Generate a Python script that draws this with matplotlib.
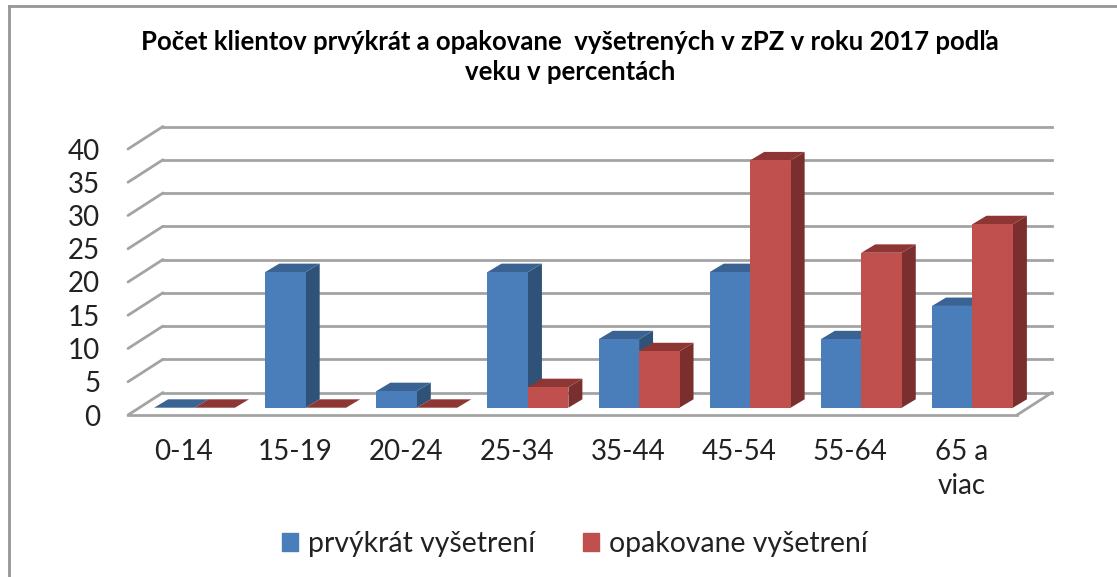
import matplotlib
matplotlib.use('Agg')
import matplotlib.pyplot as plt
from matplotlib.patches import Polygon, Patch
from matplotlib.lines import Line2D
from matplotlib.transforms import Affine2D

plt.rcParams['font.family'] = ['Lato', 'DejaVu Sans']

titulo = "Počet klientov prvýkrát a opakovane  vyšetrených v zPZ v roku 2017 podľa\nveku v percentách"
vekove_skupiny = ['0-14', '15-19', '20-24', '25-34', '35-44', '45-54', '55-64', '65 a\nviac']
prvykrat = [0, 20.4, 2.5, 20.4, 10.3, 20.4, 10.3, 15.3]
opakovane = [0, 0, 0, 3.1, 8.5, 37.2, 23.3, 27.6]
nazvy_serii = ['prvýkrát vyšetrení', 'opakovane vyšetrení']
y_ticks = [0, 5, 10, 15, 20, 25, 30, 35, 40]

W, H = 1117, 577
# posuny v pixeloch pre "3D" vzhlad
STENA = (35, 22.5)
PREDOK_STLPCA = (11, 7.3)
HLBKA_STLPCA = (14, 8.4)
SIRKA = 0.364

MODRA = ('#4A7EBB', '#3A6393', '#2F5378')
CERVENA = ('#C0504D', '#8E3634', '#7B2E2E')
SIVA = '#A3A3A3'

fig = plt.figure(figsize=(W / 100, H / 100), dpi=100)
ax = fig.add_axes([128 / W, (H - 415) / H, 889 / W, 266 / H])
ax.set_xlim(0, 8)
ax.set_ylim(0, 40)
ax.patch.set_visible(False)
for s in ax.spines.values():
    s.set_visible(False)


def posun(dx, dy):
    return ax.transData + Affine2D().translate(dx, dy)


def sikma(x, y):
    # sikma hrana z prednej roviny na zadnu stenu
    ax.annotate('', xy=(x, y), xycoords=posun(*STENA), xytext=(x, y), textcoords=ax.transData,
                arrowprops=dict(arrowstyle='-', color=SIVA, lw=2, shrinkA=0, shrinkB=0), zorder=1)


for y in y_ticks:
    ax.plot([0, 8], [y, y], color=SIVA, lw=2, transform=posun(*STENA), clip_on=False, zorder=1)
    sikma(0, y)
# predna a prava hrana podlahy
ax.plot([0, 8], [0, 0], color=SIVA, lw=2, clip_on=False, zorder=1)
sikma(8, 0)


def stlpec(x, hodnota, farby):
    predok = posun(*PREDOK_STLPCA)
    zad = posun(PREDOK_STLPCA[0] + HLBKA_STLPCA[0], PREDOK_STLPCA[1] + HLBKA_STLPCA[1])
    x2 = x + SIRKA
    # vrch a bok sa kreslia cez displej, aby sedeli pixelove posuny
    vrch = [predok.transform((x, hodnota)), predok.transform((x2, hodnota)),
            zad.transform((x2, hodnota)), zad.transform((x, hodnota))]
    bok = [predok.transform((x2, 0)), zad.transform((x2, 0)),
           zad.transform((x2, hodnota)), predok.transform((x2, hodnota))]
    ident = Affine2D()
    ax.add_patch(Polygon(bok, closed=True, fc=farby[2], ec='none', transform=ident, zorder=3, clip_on=False))
    ax.add_patch(Polygon(vrch, closed=True, fc=farby[1], ec='none', transform=ident, zorder=3, clip_on=False))
    ax.bar(x, hodnota, SIRKA, align='edge', color=farby[0], transform=predok, zorder=3, clip_on=False)


for i in range(len(vekove_skupiny)):
    x0 = i + 0.5 - SIRKA
    stlpec(x0, prvykrat[i], MODRA)
    stlpec(x0 + SIRKA, opakovane[i], CERVENA)

ax.set_xlim(0, 8)
ax.set_ylim(0, 40)
ax.set_yticks(y_ticks)
ax.set_xticks([i + 0.5 for i in range(len(vekove_skupiny))])
ax.set_xticklabels(vekove_skupiny, linespacing=1.4)
ax.tick_params(axis='y', length=0, pad=20, labelsize=20, labelcolor='#222222')
ax.tick_params(axis='x', length=0, pad=17, labelsize=20, labelcolor='#222222')

fig.text(570 / W, 1 - 57 / H, titulo, ha='center', va='center', fontsize=18.5,
         fontweight='bold', color='black', linespacing=1.3)

handles = [Patch(color=MODRA[0]), Patch(color=CERVENA[0])]
fig.legend(handles, nazvy_serii, loc='center', bbox_to_anchor=(575 / W, 1 - 544 / H), ncol=2,
           frameon=False, fontsize=20.4, handlelength=0.57, handleheight=0.57, handletextpad=0.35,
           columnspacing=1.69, labelcolor='#222222')

# ram grafu, viditelny len hore a vlavo
fig.add_artist(Line2D([9 / W, 9 / W], [0, 1 - 5.5 / H], color='#969696', lw=2))
fig.add_artist(Line2D([9 / W, 1], [1 - 5.5 / H, 1 - 5.5 / H], color='#969696', lw=2))

fig.savefig('out.png', dpi=100)
